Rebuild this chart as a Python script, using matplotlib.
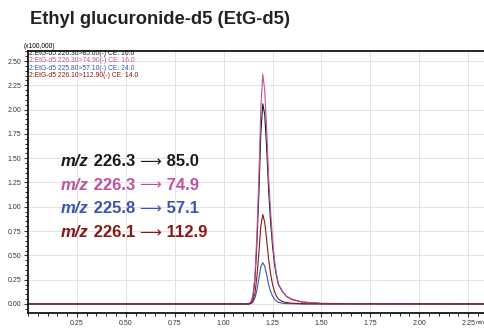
import numpy as np
import matplotlib.pyplot as plt
from matplotlib.ticker import MultipleLocator

# retention time (min) and intensities (x100,000)
time = [0.00, 1.10, 1.13, 1.14, 1.15, 1.16, 1.17, 1.18, 1.19, 1.20, 1.21, 1.22,
        1.23, 1.24, 1.25, 1.26, 1.27, 1.28, 1.30, 1.32, 1.35, 1.40, 1.50, 2.34]
ion_85 = [0, 0, 0, 0.02, 0.08, 0.25, 0.62, 1.13, 1.75, 2.06, 1.95, 1.60,
          1.17, 0.84, 0.60, 0.41, 0.29, 0.20, 0.13, 0.08, 0.045, 0.02, 0.005, 0]
ion_74 = [0, 0, 0, 0.02, 0.09, 0.28, 0.71, 1.30, 2.01, 2.365, 2.20, 1.80,
          1.30, 0.95, 0.66, 0.45, 0.31, 0.21, 0.13, 0.08, 0.05, 0.02, 0.005, 0]
ion_57 = [0, 0, 0, 0.005, 0.02, 0.06, 0.14, 0.26, 0.38, 0.425, 0.39, 0.30,
          0.20, 0.13, 0.08, 0.05, 0.03, 0.018, 0.008, 0.004, 0.002, 0, 0, 0]
ion_112 = [0, 0, 0, 0.01, 0.04, 0.11, 0.28, 0.52, 0.80, 0.92, 0.84, 0.66,
           0.46, 0.31, 0.20, 0.13, 0.08, 0.05, 0.025, 0.015, 0.008, 0.003, 0, 0]

legend_labels = ["2:EtG-d5 226.30>85.00(-) CE: 16.0",
                 "2:EtG-d5 226.30>74.90(-) CE: 16.0",
                 "2:EtG-d5 225.80>57.10(-) CE: 24.0",
                 "2:EtG-d5 226.10>112.90(-) CE: 14.0"]
precursors = ["226.3", "226.3", "225.8", "226.1"]
products = ["85.0", "74.9", "57.1", "112.9"]
colors = ["#1a1a1a", "#c050a0", "#3a55b0", "#8b1515"]

plt.rcParams['font.family'] = ['Liberation Sans', 'DejaVu Sans']

fig = plt.figure(figsize=(4.85, 3.29), dpi=100)
ax = fig.add_axes([28/485, 16/329, 1 - 28/485, 262/329])

series = [ion_85, ion_74, ion_57, ion_112]
for ys, c in zip(series, colors):
    ax.plot(time, ys, color=c, lw=0.8)

ax.set_xlim(0, 2.336)
ax.set_ylim(-0.093, 2.603)
ax.set_xticks(np.arange(0.25, 2.3, 0.25))
ax.set_yticks(np.arange(0, 2.51, 0.25))
ax.xaxis.set_minor_locator(MultipleLocator(0.05))
ax.yaxis.set_minor_locator(MultipleLocator(0.05))
ax.tick_params(axis='both', which='major', labelsize=5, length=3, width=0.8,
               pad=2, colors='#333333')
ax.tick_params(axis='both', which='minor', length=2, width=0.6)
ax.grid(True, which='major', color='#e3e3e3', lw=0.7)
ax.set_axisbelow(True)
for s in ['left', 'bottom', 'top']:
    ax.spines[s].set_linewidth(1.2)
ax.spines['right'].set_visible(False)

fig.text(24/485, 1 - 46/329, "(x100,000)", fontsize=4.8, va='center', ha='left')
fig.text(485/485, 1 - 322/329, "min", fontsize=4, va='center', ha='right',
         color='#333333')

for i, (lab, c) in enumerate(zip(legend_labels, colors)):
    fig.text(29/485, 1 - (53.5 + 7.3 * i)/329, lab, fontsize=4.9, color=c,
             va='center', ha='left')

fig.text(30/485, 1 - 19/329, "Ethyl glucuronide-d5 (EtG-d5)", fontsize=13.2,
         fontweight='bold', va='center', ha='left', color='#222222')

for i, (pre, pro, c) in enumerate(zip(precursors, products, colors)):
    y = 1 - (166 + 23.7 * i)/329
    t = fig.text(61/485, y, "m/z", fontsize=12, fontweight='bold',
                 fontstyle='italic', color=c, va='baseline', ha='left')
    t = ax.annotate(" " + pre + " ", xy=(1, 0), xycoords=t, fontsize=12,
                    fontweight='bold', color=c, va='bottom', ha='left',
                    annotation_clip=False)
    t = ax.annotate("\u27f6", xy=(1, 0), xycoords=t, fontsize=11,
                    color=c, va='bottom', ha='left', annotation_clip=False,
                    family=['DejaVu Sans'])
    ax.annotate(" " + pro, xy=(1, 0), xycoords=t, fontsize=12,
                fontweight='bold', color=c, va='bottom', ha='left',
                annotation_clip=False)

plt.savefig("out.png", dpi=100)
